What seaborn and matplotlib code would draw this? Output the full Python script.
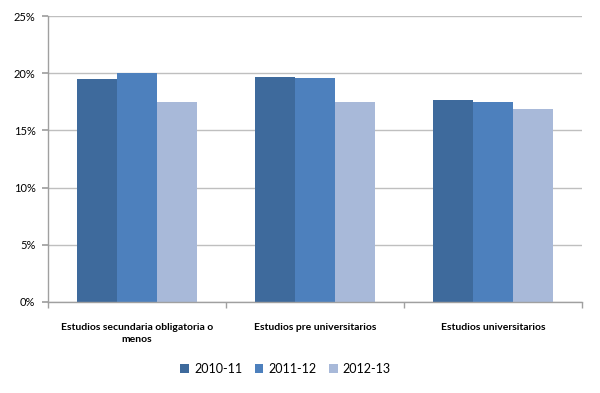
import matplotlib
matplotlib.use("Agg")
import matplotlib.pyplot as plt
import seaborn as sns
import pandas as pd
from matplotlib.ticker import FuncFormatter, FixedLocator

categories = ["Estudios secundaria obligatoria o\nmenos", "Estudios pre universitarios", "Estudios universitarios"]
series = ["2010-11", "2011-12", "2012-13"]
v2010 = [19.5, 19.7, 17.7]
v2011 = [20.0, 19.6, 17.5]
v2012 = [17.5, 17.5, 16.9]
yticks = [0, 5, 10, 15, 20, 25]

rows = []
for s, vals in zip(series, [v2010, v2011, v2012]):
    for c, v in zip(categories, vals):
        rows.append({"cat": c, "serie": s, "val": v})
df = pd.DataFrame(rows)

sns.set_theme(style="white")
plt.rcParams['font.family'] = ['Lato', 'DejaVu Sans']
plt.rcParams['text.color'] = '#000000'
plt.rcParams['xtick.color'] = '#000000'
plt.rcParams['ytick.color'] = '#000000'
fig = plt.figure(figsize=(6, 3.93), dpi=100)
ax = fig.add_axes([0.08, 0.232, 0.89, 0.727])
palette = ["#3E6A9C", "#4D80BD", "#A8B9D9"]
sns.barplot(data=df, x="cat", y="val", hue="serie", palette=palette, width=0.67,
            saturation=1, ax=ax, edgecolor="none", linewidth=0)
ax.set_ylim(0, 25)
ax.set_xlim(-0.5, 2.5)
ax.set_yticks(yticks)
ax.yaxis.set_major_formatter(FuncFormatter(lambda v, p: f"{int(v)}%"))
ax.grid(axis="y", color="#BFBFBF", linewidth=1)
ax.set_axisbelow(True)
for s in ["top", "right"]:
    ax.spines[s].set_visible(False)
for s in ["left", "bottom"]:
    ax.spines[s].set_color("#A0A0A0")
    ax.spines[s].set_linewidth(1)
ax.set_xlabel("")
ax.set_ylabel("")
ax.tick_params(axis="y", labelsize=8, left=True, length=4, color="#A0A0A0", pad=5)
ax.tick_params(axis="x", labelsize=7.5, bottom=False, pad=9)
for lab in ax.get_xticklabels():
    lab.set_fontweight("bold")
    lab.set_linespacing(1.5)
ax.xaxis.set_minor_locator(FixedLocator([-0.5, 0.5, 1.5, 2.5]))
ax.tick_params(axis="x", which="minor", bottom=True, length=4, color="#A0A0A0")
ax.legend(loc="upper center", bbox_to_anchor=(0.445, -0.175), ncol=3, frameon=False,
          fontsize=9, handlelength=0.7, handleheight=0.7, handletextpad=0.4, columnspacing=1.0)
fig.savefig("out.png", dpi=100)
